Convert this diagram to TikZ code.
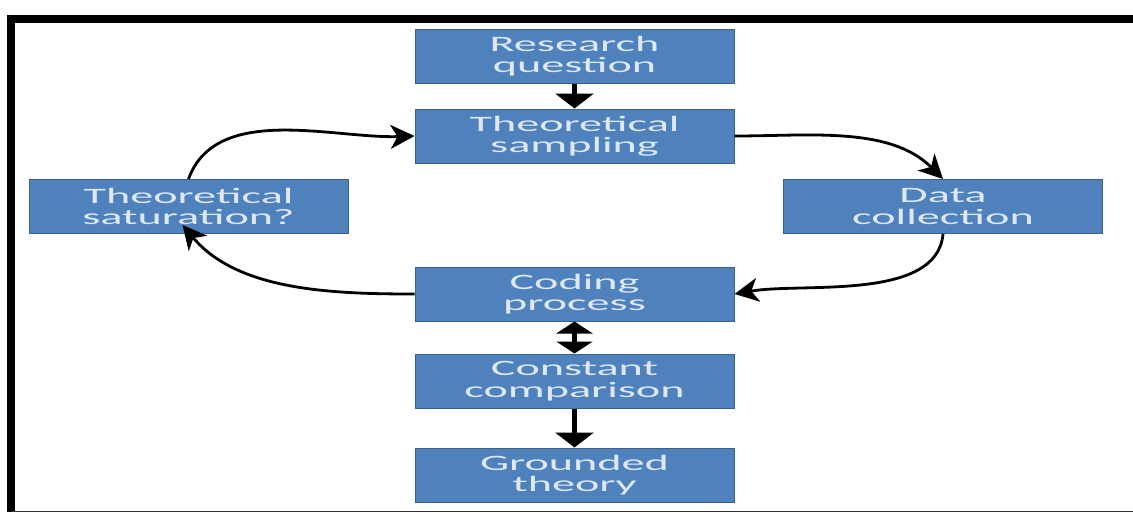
\documentclass[tikz,border=0pt]{standalone}
\usepackage{fontspec}
\setmainfont[FakeStretch=2.1]{Carlito}
\usepackage{tikz}
\usetikzlibrary{arrows.meta,positioning}
\definecolor{boxblue}{RGB}{79,129,189}
\definecolor{boxedge}{RGB}{58,96,142}
\definecolor{boxtext}{RGB}{222,232,244}

\begin{document}
\begin{tikzpicture}[
    x=1pt, y=-1pt,
    node distance=0mm,
    field/.style={draw=boxedge, fill=boxblue, text=boxtext, minimum width=319pt, minimum height=54pt, align=center, line width=1pt, inner sep=0pt, font=\fontsize{22pt}{21.5pt}\selectfont},
    thick arrow/.style={line width=4.5pt, -{Triangle[length=15pt,width=38pt]}},
    loop arrow/.style={line width=2.8pt, -{Stealth[length=24pt,width=24pt,inset=7pt]}}
]
\useasboundingbox (0,0) rectangle (1133,512);
% frame
\draw[line width=8pt] (1133,19) -| (11,512);
\draw[line width=1pt, black!80] (11,511.5) -- (1133,511.5);

\node[field] (question) at (574.5,56) {Research\\question};
\node[field, below=25pt of question] (sampling) {Theoretical\\sampling};
\node[field, below=103pt of sampling] (coding) {Coding\\process};
\node[field, below=32pt of coding] (compare) {Constant\\comparison};
\node[field, below=39pt of compare] (grounded) {Grounded\\theory};
\node[field] (saturation) at (188.5,206.5) {Theoretical\\saturation?};
\node[field] (collection) at (943,206.5) {Data\\collection};

\draw[thick arrow] (question) -- (sampling);
\draw[thick arrow, {Triangle[length=12pt,width=36pt]}-{Triangle[length=12pt,width=36pt]}] (coding) -- (compare);
\draw[thick arrow] (compare) -- (grounded);

\draw[loop arrow] (sampling.east) to[out=0, in=135, looseness=0.9] (collection.north);
\draw[loop arrow] (collection.south) to[out=-95, in=10, looseness=0.8] (coding.east);
\draw[loop arrow] (coding.west) to[out=180, in=-50, looseness=0.9] ([xshift=-6pt,yshift=9pt]saturation.south);
\draw[loop arrow] (saturation.north) to[out=70, in=182, looseness=0.9] (sampling.west);
\end{tikzpicture}
\end{document}
